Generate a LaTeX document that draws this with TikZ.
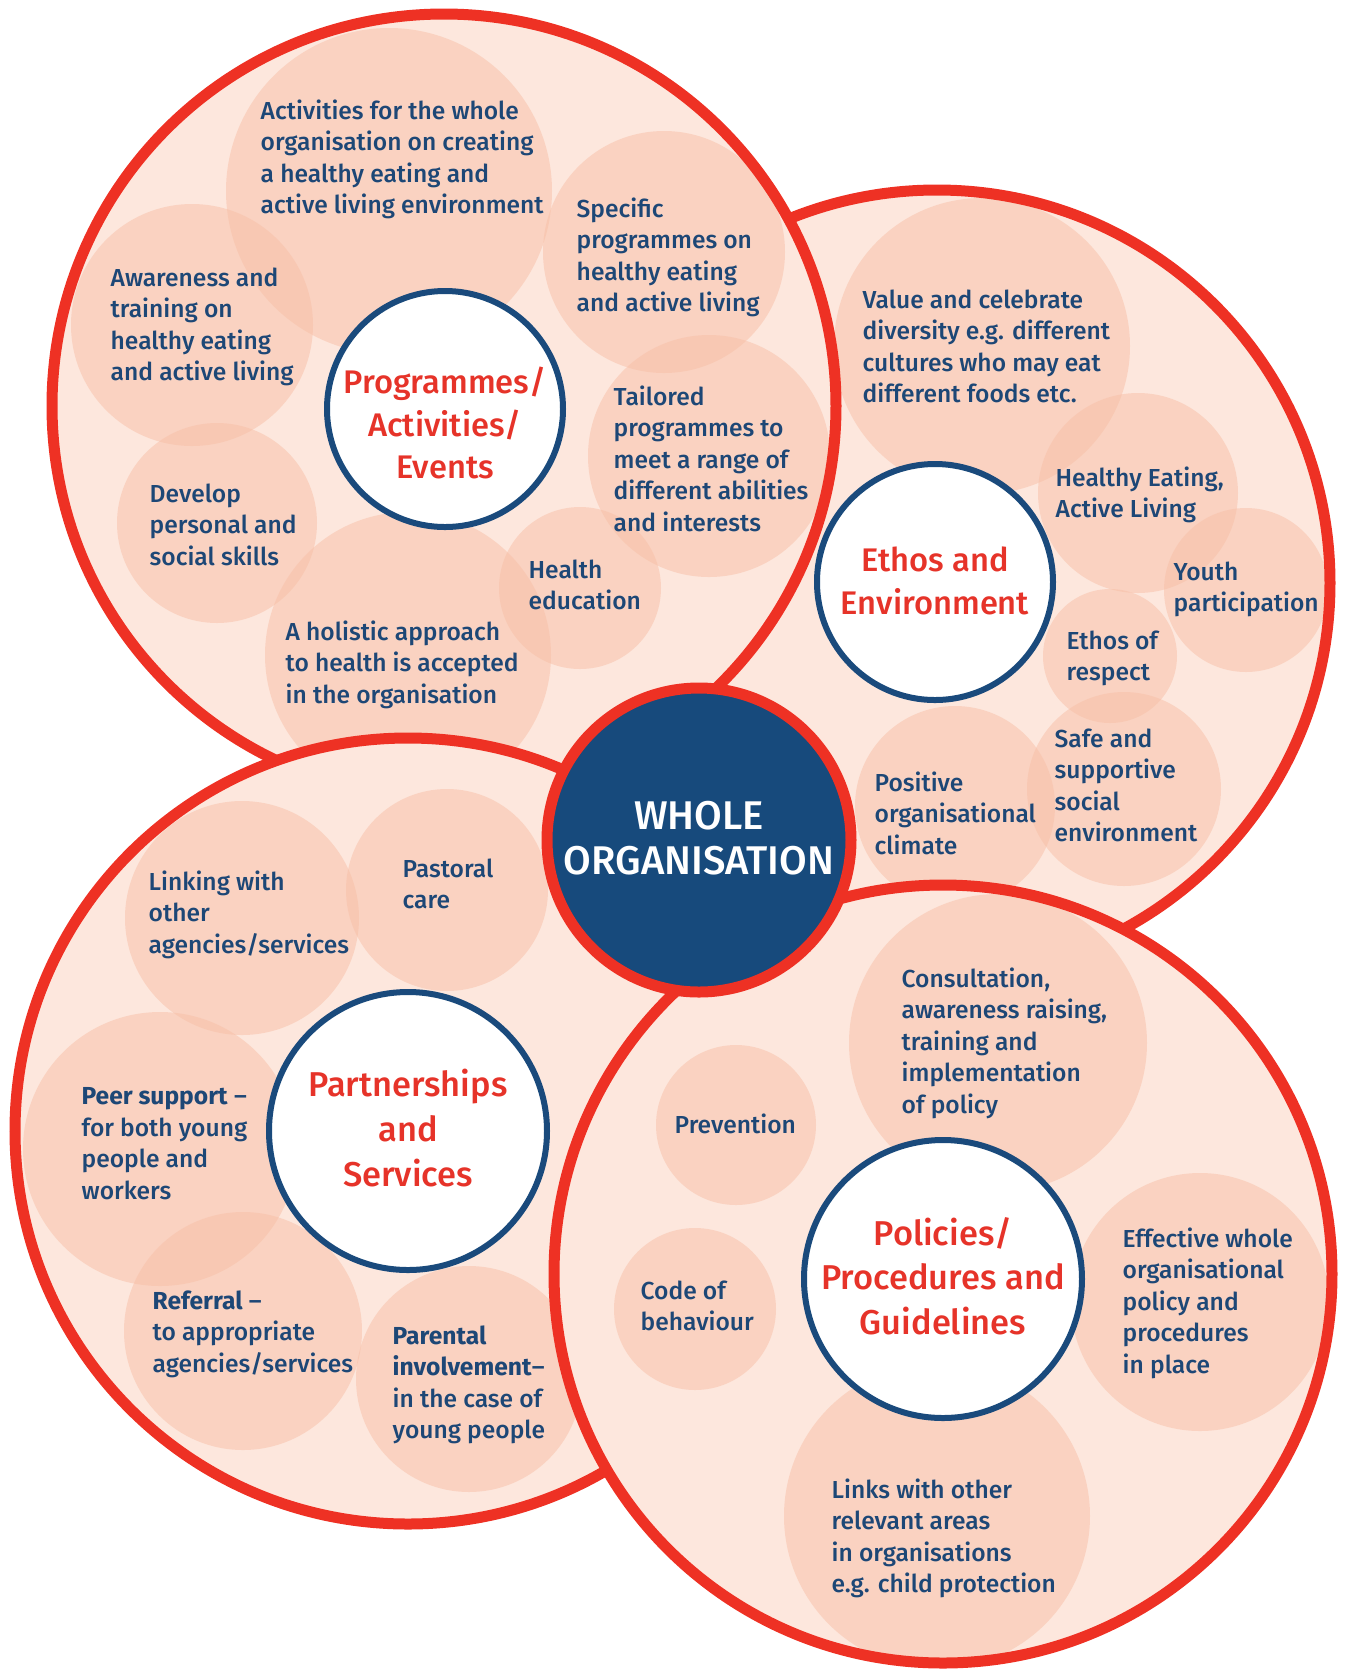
\documentclass[tikz,border=0pt]{standalone}
\usepackage{xcolor}
\usepackage{fontspec}
\setmainfont{Fira Sans}[UprightFont={* Medium}, BoldFont={* Bold}]
\usepackage{tikz}

\definecolor{bgpink}{HTML}{FDE7DD}
\definecolor{bubpink}{HTML}{F8BFA6}
\definecolor{ringred}{HTML}{EE3124}
\definecolor{hubblue}{HTML}{1A4A7C}
\definecolor{txtblue}{HTML}{1D4776}
\definecolor{titlered}{HTML}{E63329}
\definecolor{wholeblue}{HTML}{174A7C}

\begin{document}
\begin{tikzpicture}[x=0.1mm,y=-0.1mm,
    big/.style={fill=bgpink},
    ring/.style={draw=ringred,line width=1.1mm},
    bub/.style={fill=bubpink,fill opacity=0.5},
    hub/.style={fill=white,draw=hubblue,line width=0.6mm},
    txt/.style={text=txtblue,align=left,anchor=north west,inner sep=0pt,
        font=\fontsize{7.0}{8.95}\selectfont},
    ttl/.style={text=titlered,align=center,inner sep=0pt,
        font=\fontsize{9.3}{12.2}\selectfont},
    ttlbig/.style={ttl,font=\fontsize{9.8}{12.7}\selectfont}]
    \useasboundingbox (0,0) rectangle (1352,1669);
    \coordinate (prog) at (444,406);
    \coordinate (ethos) at (937,583);
    \coordinate (part) at (408,1131);
    \coordinate (pol) at (943,1274);
    \coordinate (whole) at (699,840);

    % ethos and environment
    \fill[big] (ethos) circle[radius=393];
    \begin{scope}
        \clip (ethos) circle[radius=393];
        \fill[bub] (982,346) circle[radius=148];
        \fill[bub] (1138,493) circle[radius=100];
        \fill[bub] (1246,590) circle[radius=82];
        \fill[bub] (1110,656) circle[radius=67];
        \fill[bub] (1124,789) circle[radius=97];
        \fill[bub] (955,806) circle[radius=100];
    \end{scope}
    \draw[ring] (ethos) circle[radius=393];
    \draw[hub] (935,582) circle[radius=118];
    \node[ttl] (ethost) at (935,581) {Ethos and\\Environment};
    \node[txt] (diversity) at (862,289) {Value and celebrate\\diversity e.g. different\\cultures who may eat\\different foods etc.};
    \node[txt] (heal) at (1055,466) {Healthy Eating,\\Active Living};
    \node[txt] (youth) at (1173,561) {Youth\\participation};
    \node[txt] (respect) at (1066,630) {Ethos of\\respect};
    \node[txt] (safe) at (1054,728) {Safe and\\supportive\\social\\environment};
    \node[txt] (climate) at (874,771) {Positive\\organisational\\climate};

    % programmes / activities / events
    \fill[big] (prog) circle[radius=392];
    \begin{scope}
        \clip (prog) circle[radius=392];
        \fill[bub] (389,191) circle[radius=163];
        \fill[bub] (664,252) circle[radius=121];
        \fill[bub] (192,325) circle[radius=121];
        \fill[bub] (217,523) circle[radius=100];
        \fill[bub] (709,456) circle[radius=121];
        \fill[bub] (580,588) circle[radius=81];
        \fill[bub] (408,655) circle[radius=143];
    \end{scope}
    \draw[ring] (prog) circle[radius=392];
    \draw[hub] (445,409) circle[radius=118];
    \node[ttl] (progt) at (445,423) {Programmes/\\Activities/\\Events};
    \node[txt] (whole act) at (260,99) {Activities for the whole\\organisation on creating\\a healthy eating and\\active living environment};
    \node[txt] (specific) at (576,197) {Specific\\programmes on\\healthy eating\\and active living};
    \node[txt] (aware) at (110,267) {Awareness and\\training on\\healthy eating\\and active living};
    \node[txt] (develop) at (149,483) {Develop\\personal and\\social skills};
    \node[txt] (tailored) at (613,385) {Tailored\\programmes to\\meet a range of\\different abilities\\and interests};
    \node[txt] (health ed) at (528,559) {Health\\education};
    \node[txt] (holistic) at (285,620) {A holistic approach\\to health is accepted\\in the organisation};

    % partnerships and services
    \fill[big] (part) circle[radius=393];
    \begin{scope}
        \clip (part) circle[radius=393];
        \fill[bub] (242,918) circle[radius=117];
        \fill[bub] (447,890) circle[radius=101];
        \fill[bub] (160,1149) circle[radius=137];
        \fill[bub] (243,1331) circle[radius=119];
        \fill[bub] (469,1379) circle[radius=113];
    \end{scope}
    \draw[ring] (part) circle[radius=393];
    \draw[hub] (part) circle[radius=139];
    \node[ttlbig] (partt) at (408,1128) {Partnerships\\and\\Services};
    \node[txt] (linking) at (148,870) {Linking with\\other\\agencies/services};
    \node[txt] (pastoral) at (402,858) {Pastoral\\care};
    \node[txt] (peer) at (81,1087) {\textbf{Peer support} --\\for both young\\people and\\workers};
    \node[txt] (referral) at (152,1290) {\textbf{Referral} --\\to appropriate\\agencies/services};
    \node[txt] (parental) at (392,1325) {\textbf{Parental}\\\textbf{involvement}--\\in the case of\\young people};

    % policies / procedures and guidelines
    \fill[big] (pol) circle[radius=389];
    \begin{scope}
        \clip (pol) circle[radius=389];
        \fill[bub] (998,1043) circle[radius=149];
        \fill[bub] (736,1125) circle[radius=80];
        \fill[bub] (695,1309) circle[radius=81];
        \fill[bub] (1200,1302) circle[radius=129];
        \fill[bub] (937,1516) circle[radius=153];
    \end{scope}
    \draw[ring] (pol) circle[radius=389];
    \draw[hub] (943,1279) circle[radius=139];
    \node[ttlbig] (polt) at (943,1276) {Policies/\\Procedures and\\Guidelines};
    \node[txt] (consult) at (901,967) {Consultation,\\awareness raising,\\training and\\implementation\\of policy};
    \node[txt] (prevent) at (674,1113) {Prevention};
    \node[txt] (code) at (640,1280) {Code of\\behaviour};
    \node[txt] (effective) at (1122,1227) {Effective whole\\organisational\\policy and\\procedures\\in place};
    \node[txt] (links) at (831,1478) {Links with other\\relevant areas\\in organisations\\e.g. child protection};

    % whole organisation
    \draw[ring,fill=wholeblue] (whole) circle[radius=152];
    \node[ttl,text=white,font=\fontsize{11.4}{12.7}\selectfont] (wholet) at (699,838) {WHOLE\\ORGANISATION};
\end{tikzpicture}
\end{document}
